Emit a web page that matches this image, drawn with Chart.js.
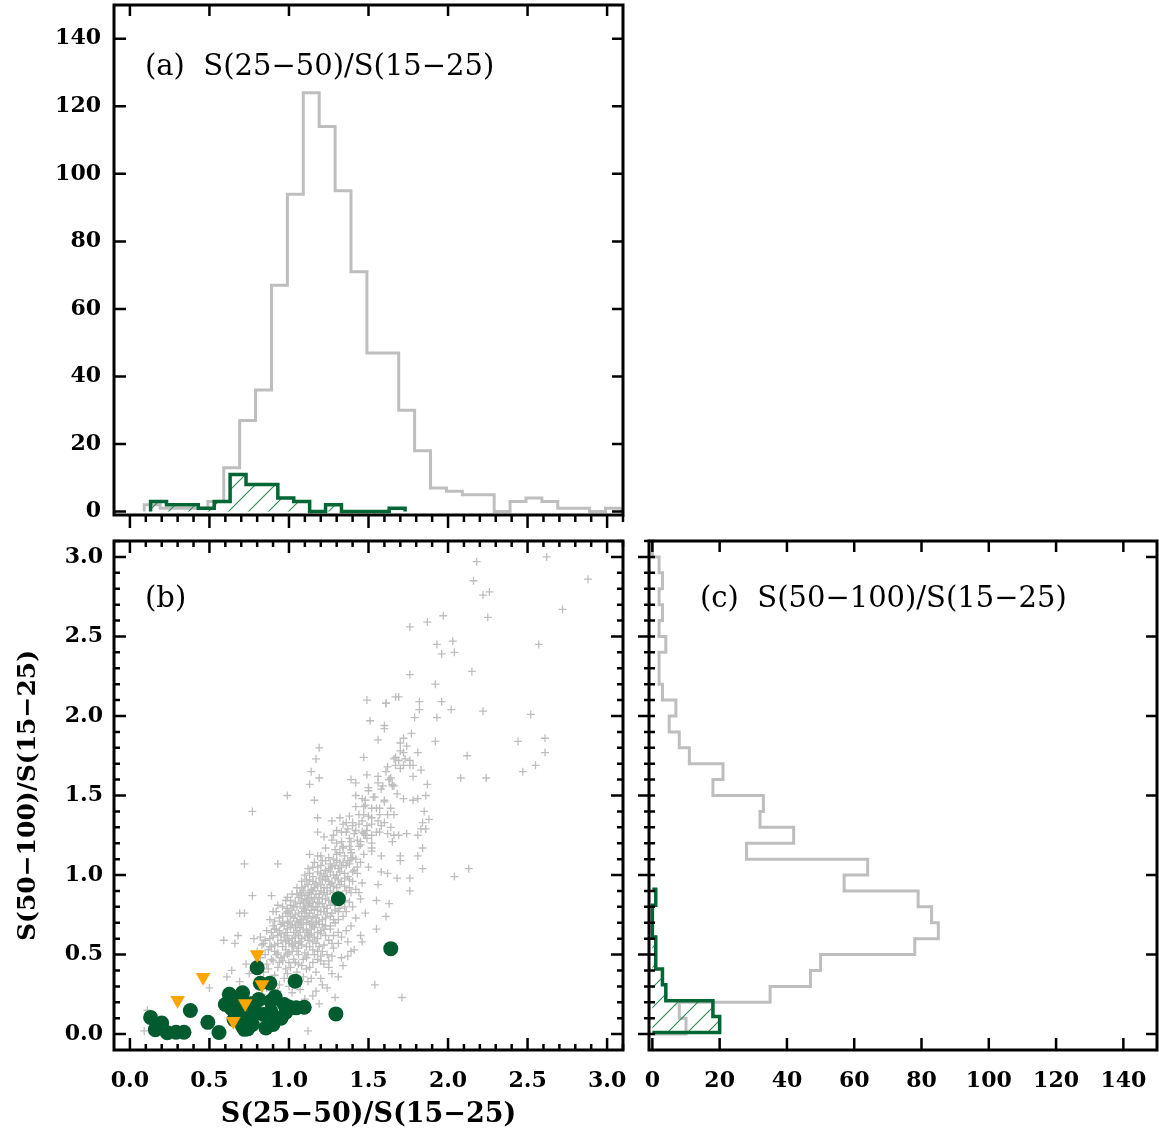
<!DOCTYPE html>
<html>
<head>
<meta charset="utf-8">
<title>Colour ratios</title>
<script src="https://cdn.jsdelivr.net/npm/chart.js@4.4.1/dist/chart.umd.min.js"></script>
<style>
  html, body { margin: 0; padding: 0; background: #fff; }
  #wrap { position: relative; width: 1159px; height: 1135px; }
  #wrap canvas { position: absolute; left: 0; top: 0; }
</style>
</head>
<body>
<div id="wrap">
  <canvas id="panelA" width="1159" height="1135"></canvas>
  <canvas id="panelB" width="1159" height="1135"></canvas>
  <canvas id="panelC" width="1159" height="1135"></canvas>
</div>
<script>
// (a) histogram of S(25-50)/S(15-25): whole sample (grey) and selected sources (green)
const edgesAllA = [0.09, 0.19, 0.29, 0.39, 0.49, 0.59, 0.69, 0.79, 0.89, 0.99, 1.09, 1.19, 1.29, 1.39, 1.49, 1.59,
                   1.69, 1.79, 1.89, 1.99, 2.09, 2.19, 2.29, 2.39, 2.49, 2.59, 2.69, 2.79, 2.89, 2.99, 3.09];
const countsAllA = [2, 1, 1, 1, 3, 13, 27, 36, 67, 94, 124, 114, 95, 71, 47, 47, 30, 18, 7, 6, 5, 5, 0, 3, 4, 3, 1, 1, 0, 1];
const edgesSelA = [0.13, 0.23, 0.33, 0.43, 0.53, 0.63, 0.73, 0.83, 0.93, 1.03, 1.13, 1.23, 1.33, 1.43, 1.53, 1.63, 1.73];
const countsSelA = [3, 2, 2, 1, 3, 11, 8, 8, 4, 3, 0, 2, 0, 0, 0, 1];

// (c) histogram of S(50-100)/S(15-25)
const edgesAllC = [0.0, 0.1, 0.2, 0.3, 0.4, 0.5, 0.6, 0.7, 0.8, 0.9, 1.0, 1.1, 1.2, 1.3, 1.4, 1.5, 1.6,
                   1.7, 1.8, 1.9, 2.0, 2.1, 2.2, 2.3, 2.4, 2.5, 2.6, 2.7, 2.8, 2.9, 3.0, 3.1];
const countsAllC = [10, 8, 35, 47, 50, 78, 85, 83, 79, 57, 64, 28, 42, 32, 33, 18, 21, 11, 8, 5, 7, 3, 2, 2, 4, 2, 3, 2, 3, 2, 0];
const edgesSelC = [0.01, 0.11, 0.21, 0.31, 0.41, 0.51, 0.61, 0.71, 0.81, 0.91];
const countsSelC = [20, 18, 4, 3, 1, 1, 0, 0, 1];

// (b) selected sources: detections (circles) and upper limits (triangles)
const detections = [
  [0.13, 0.105], [0.20, 0.07], [0.16, 0.028], [0.235, 0.008], [0.29, 0.012], [0.34, 0.012], [0.38, 0.148],
  [0.49, 0.074], [0.56, 0.01], [0.60, 0.186], [0.625, 0.25], [0.655, 0.091], [0.685, 0.123], [0.708, 0.26],
  [0.708, 0.049], [0.66, 0.18], [0.70, 0.10], [0.72, 0.03], [0.69, 0.15], [0.67, 0.21], [0.64, 0.16],
  [0.72, 0.09], [0.74, 0.033], [0.77, 0.112], [0.80, 0.417], [0.81, 0.217], [0.77, 0.06], [0.79, 0.14],
  [0.76, 0.19], [0.82, 0.32], [0.855, 0.039], [0.876, 0.102], [0.886, 0.144], [0.886, 0.207], [0.88, 0.32],
  [0.913, 0.234], [0.84, 0.123], [0.90, 0.06], [0.97, 0.186], [0.98, 0.137], [1.00, 0.17], [0.95, 0.10],
  [1.039, 0.333], [1.045, 0.165], [1.096, 0.169], [1.295, 0.127], [1.311, 0.851], [1.64, 0.537]
];
const upperLimits = [[0.30, 0.213], [0.46, 0.358], [0.80, 0.501], [0.83, 0.312], [0.725, 0.192], [0.65, 0.081]];

// (b) whole sample (dense core approximated)
const fieldPoints = [
  [2.18, 2.97], [2.62, 3.00], [2.88, 2.86], [2.16, 2.85], [2.22, 2.76], [2.26, 2.78], [2.72, 2.67], [1.97, 2.63],
  [2.25, 2.62], [1.87, 2.59], [1.76, 2.56], [1.93, 2.45], [2.03, 2.47], [1.96, 2.39], [2.04, 2.40], [2.57, 2.45],
  [1.76, 2.26], [2.15, 2.28], [1.92, 2.20], [1.67, 2.12], [1.69, 2.12], [1.61, 2.08], [1.82, 2.09], [1.96, 2.09],
  [1.82, 2.04], [2.02, 2.04], [2.22, 2.03], [2.52, 2.01], [1.79, 1.99], [1.93, 1.99], [1.60, 1.92], [1.77, 1.89],
  [1.72, 1.86], [1.92, 1.84], [2.44, 1.84], [2.61, 1.86], [1.70, 1.83], [1.81, 1.77], [1.72, 1.77], [2.12, 1.75],
  [2.61, 1.77], [1.66, 1.73], [1.69, 1.72], [1.76, 1.72], [1.67, 1.69], [1.72, 1.69], [1.78, 1.69], [1.61, 1.65],
  [1.83, 1.66], [2.55, 1.69], [2.47, 1.65], [1.78, 1.62], [2.08, 1.61], [2.24, 1.61], [1.87, 1.57], [1.63, 1.60],
  [1.65, 1.57],
  [1.49, 2.10], [1.61, 2.08], [1.51, 1.97], [1.60, 1.94], [1.56, 1.85], [1.19, 1.80], [1.17, 1.73], [1.47, 1.74],
  [1.14, 1.65], [1.19, 1.61], [1.13, 1.57], [1.49, 1.63], [1.39, 1.60], [1.42, 1.58], [1.63, 1.60], [1.56, 1.58],
  [1.59, 1.56], [1.65, 1.56], [0.99, 1.50], [1.16, 1.47], [1.42, 1.50], [1.50, 1.53], [1.54, 1.49], [1.48, 1.47],
  [1.68, 1.51], [1.72, 1.48], [1.86, 1.50], [1.81, 1.48], [1.78, 1.47], [1.60, 1.46], [1.64, 1.42], [1.57, 1.42],
  [1.52, 1.42], [1.47, 1.43], [1.66, 1.38], [1.62, 1.38], [1.47, 1.38], [1.85, 1.40], [0.77, 1.40], [1.18, 1.36],
  [1.27, 1.34], [1.32, 1.36], [1.36, 1.33], [1.52, 1.36], [1.56, 1.34], [1.60, 1.33], [1.84, 1.33], [1.88, 1.35],
  [1.40, 1.31], [1.44, 1.32], [1.49, 1.31], [1.58, 1.31], [1.64, 1.30], [1.83, 1.29], [1.86, 1.29], [1.37, 1.29],
  [1.18, 1.27], [1.22, 1.24], [1.28, 1.25], [1.33, 1.27], [1.41, 1.26], [1.46, 1.27], [1.49, 1.28], [1.48, 1.25],
  [1.52, 1.25], [1.57, 1.27], [1.62, 1.26], [1.66, 1.25], [1.69, 1.25], [1.74, 1.26], [1.81, 1.25], [1.65, 1.21],
  [1.45, 1.21], [1.39, 1.21], [1.30, 1.20], [1.34, 1.18], [1.38, 1.18], [1.45, 1.19], [1.52, 1.20], [1.84, 1.17],
  [1.81, 1.12], [1.52, 1.15], [1.58, 1.12], [1.70, 1.12], [1.70, 1.09], [1.39, 1.14], [1.32, 1.14], [1.13, 1.13],
  [1.18, 1.12], [0.72, 1.07], [0.93, 1.07], [1.84, 1.04], [2.04, 0.99], [1.68, 0.98], [1.76, 0.98], [1.62, 1.01],
  [1.58, 1.02], [2.13, 1.04],
  [0.59, 0.59], [0.66, 0.57], [0.68, 0.62], [0.78, 0.60], [0.72, 0.76], [0.77, 0.87], [0.64, 0.40], [0.61, 0.36],
  [0.50, 0.29], [0.09, 0.02], [1.12, 0.02], [1.19, 0.19], [1.54, 0.31], [1.71, 0.23], [0.11, 0.15], [0.73, 0.44],
  [0.83, 0.56], [0.69, 0.76], [0.89, 0.87], [0.90, 0.77], [0.93, 0.81], [0.99, 0.86], [1.00, 0.76], [1.08, 0.87],
  [0.96, 0.70], [0.91, 0.66], [0.89, 0.55], [0.92, 0.50], [0.96, 0.46], [0.93, 0.42], [0.98, 0.41], [1.06, 0.44],
  [1.11, 0.41], [1.14, 0.35], [1.20, 0.35], [1.25, 0.42], [1.20, 0.49], [1.27, 0.49], [1.33, 0.48], [1.39, 0.52],
  [1.46, 0.58], [1.37, 0.58], [1.55, 0.66], [1.61, 0.74], [1.48, 0.76], [1.55, 0.84], [1.63, 0.82], [1.76, 0.90],
  [1.56, 0.94], [1.44, 0.89],
  [0.78, 0.23], [0.95, 0.21], [1.02, 0.26], [1.10, 0.22], [1.17, 0.27], [0.72, 0.28], [0.86, 0.29], [0.93, 0.27],
  [1.00, 0.30], [1.07, 0.28], [1.15, 0.24], [1.24, 0.29], [0.83, 0.25], [1.29, 0.23],
  [0.69, 0.33], [0.81, 0.34], [0.88, 0.32], [0.97, 0.35], [1.04, 0.31], [1.12, 0.33], [1.21, 0.31], [1.31, 0.36],
  [0.75, 0.38], [0.84, 0.39], [0.91, 0.37], [0.99, 0.38], [1.05, 0.39], [1.09, 0.36], [1.17, 0.39], [1.27, 0.38],
  [1.02, 0.34], [0.94, 0.31],
  [0.78, 0.43], [0.86, 0.44], [0.94, 0.45], [1.01, 0.42], [1.03, 0.47], [1.08, 0.43], [1.15, 0.45], [1.22, 0.44],
  [1.34, 0.43], [0.82, 0.48], [0.89, 0.47], [0.97, 0.49], [1.06, 0.50], [1.11, 0.48], [1.18, 0.47], [1.25, 0.46],
  [1.37, 0.49], [1.00, 0.45], [1.13, 0.42], [0.87, 0.41],
  [0.80, 0.52], [0.87, 0.53], [0.93, 0.51], [0.96, 0.55], [1.02, 0.52], [1.06, 0.54], [1.10, 0.51], [1.15, 0.53],
  [1.21, 0.52], [1.28, 0.54], [1.41, 0.53], [0.84, 0.57], [0.91, 0.56], [0.95, 0.59], [1.00, 0.57], [1.04, 0.58],
  [1.08, 0.56], [1.12, 0.59], [1.17, 0.57], [1.22, 0.56], [1.31, 0.57], [1.00, 0.51], [1.13, 0.55], [0.98, 0.53],
  [1.25, 0.59],
  [0.82, 0.61], [0.88, 0.60], [0.93, 0.62], [0.97, 0.61], [1.02, 0.60], [1.06, 0.62], [1.10, 0.61], [1.14, 0.63],
  [1.18, 0.60], [1.23, 0.62], [1.33, 0.61], [1.45, 0.62], [0.86, 0.65], [0.92, 0.66], [0.98, 0.64], [1.01, 0.67],
  [1.05, 0.65], [1.09, 0.66], [1.12, 0.64], [1.16, 0.67], [1.20, 0.65], [1.26, 0.66], [1.36, 0.65], [0.95, 0.69],
  [1.00, 0.70], [1.04, 0.68], [1.08, 0.69], [1.11, 0.70], [1.15, 0.68], [1.19, 0.69], [1.23, 0.68], [1.29, 0.70],
  [1.39, 0.68], [1.13, 0.62], [1.07, 0.64], [0.90, 0.68],
  [0.88, 0.72], [0.94, 0.73], [0.99, 0.71], [1.03, 0.73], [1.07, 0.72], [1.10, 0.74], [1.14, 0.71], [1.17, 0.73],
  [1.21, 0.72], [1.26, 0.74], [1.31, 0.72], [1.42, 0.73], [0.92, 0.77], [0.98, 0.76], [1.02, 0.78], [1.06, 0.76],
  [1.10, 0.78], [1.13, 0.76], [1.16, 0.78], [1.20, 0.77], [1.24, 0.76], [1.29, 0.78], [1.36, 0.77], [0.96, 0.80],
  [1.01, 0.81], [1.05, 0.80], [1.09, 0.79], [1.12, 0.81], [1.15, 0.80], [1.19, 0.82], [1.22, 0.80], [1.26, 0.81],
  [1.32, 0.79], [1.40, 0.80], [1.08, 0.74], [1.18, 0.75],
  [0.98, 0.84], [1.04, 0.83], [1.08, 0.85], [1.11, 0.84], [1.14, 0.86], [1.18, 0.83], [1.21, 0.85], [1.25, 0.84],
  [1.29, 0.86], [1.35, 0.84], [1.45, 0.85], [1.02, 0.88], [1.07, 0.89], [1.10, 0.87], [1.13, 0.89], [1.17, 0.88],
  [1.20, 0.90], [1.24, 0.88], [1.28, 0.89], [1.33, 0.87], [1.39, 0.89], [1.16, 0.85],
  [1.05, 0.92], [1.10, 0.93], [1.14, 0.91], [1.18, 0.93], [1.22, 0.92], [1.26, 0.94], [1.30, 0.92], [1.35, 0.93],
  [1.42, 0.91], [1.08, 0.96], [1.13, 0.97], [1.17, 0.95], [1.21, 0.97], [1.25, 0.96], [1.29, 0.98], [1.33, 0.96],
  [1.38, 0.97], [1.46, 0.95], [1.10, 1.00], [1.15, 0.99], [1.20, 1.01], [1.24, 0.99], [1.28, 1.00], [1.32, 1.02],
  [1.37, 0.99], [1.43, 1.01],
  [1.12, 1.04], [1.18, 1.05], [1.23, 1.03], [1.27, 1.05], [1.31, 1.04], [1.36, 1.06], [1.41, 1.03], [1.50, 1.05],
  [1.16, 1.08], [1.21, 1.09], [1.26, 1.07], [1.30, 1.09], [1.34, 1.08], [1.39, 1.10], [1.45, 1.08], [1.20, 1.12],
  [1.25, 1.11], [1.30, 1.13], [1.35, 1.12], [1.40, 1.11], [1.47, 1.13],
  [1.23, 1.17], [1.29, 1.16], [1.34, 1.17], [1.39, 1.16], [1.44, 1.18], [1.52, 1.17], [1.27, 1.22], [1.33, 1.21],
  [1.38, 1.23], [1.43, 1.22], [1.49, 1.23], [1.30, 1.28], [1.36, 1.27], [1.42, 1.28], [1.47, 1.26], [1.55, 1.27],
  [1.34, 1.32], [1.40, 1.33], [1.46, 1.34], [1.52, 1.32], [1.38, 1.37], [1.44, 1.38], [1.50, 1.37], [1.57, 1.38],
  [1.42, 1.43], [1.48, 1.44], [1.55, 1.42], [1.46, 1.48], [1.53, 1.49], [1.60, 1.47], [1.50, 1.55], [1.58, 1.54],
  [1.66, 1.56], [1.56, 1.62], [1.64, 1.61], [1.62, 1.68], [1.70, 1.67], [1.76, 1.69], [1.67, 1.74], [1.73, 1.73],
  [1.70, 1.78], [1.74, 1.81],
  [0.90, 0.46], [0.95, 0.48], [1.04, 0.45], [1.09, 0.47], [1.16, 0.50], [1.20, 0.46], [0.85, 0.50], [0.91, 0.52],
  [0.99, 0.50], [1.05, 0.52], [1.12, 0.50], [1.18, 0.52], [1.24, 0.50], [0.88, 0.55], [0.93, 0.57], [0.98, 0.58],
  [1.03, 0.55], [1.07, 0.58], [1.11, 0.55], [1.15, 0.58], [1.19, 0.55], [1.27, 0.57], [1.02, 0.56], [0.85, 0.59],
  [0.90, 0.61], [0.95, 0.63], [0.99, 0.62], [1.04, 0.61], [1.08, 0.60], [1.12, 0.62], [1.16, 0.61], [1.20, 0.63],
  [1.28, 0.62], [1.00, 0.59], [1.06, 0.57], [0.89, 0.64], [0.94, 0.65], [0.99, 0.66], [1.03, 0.64], [1.07, 0.67],
  [1.11, 0.65], [1.14, 0.66], [1.18, 0.64], [1.22, 0.66], [1.31, 0.64], [1.02, 0.69], [1.06, 0.70], [1.13, 0.69],
  [1.17, 0.70], [1.21, 0.69], [1.26, 0.68], [0.97, 0.68], [0.91, 0.71], [0.96, 0.74], [1.01, 0.74], [1.05, 0.71],
  [1.09, 0.72], [1.12, 0.73], [1.15, 0.74], [1.19, 0.71], [1.23, 0.73], [1.28, 0.72], [1.34, 0.74], [0.99, 0.77],
  [1.04, 0.75], [1.08, 0.77], [1.11, 0.76], [1.14, 0.78], [1.18, 0.78], [1.22, 0.77], [1.27, 0.76], [1.31, 0.77],
  [0.99, 0.79], [1.03, 0.80], [1.07, 0.82], [1.10, 0.80], [1.13, 0.82], [1.17, 0.80], [1.21, 0.82], [1.24, 0.79],
  [1.29, 0.81], [1.35, 0.80], [1.01, 0.84], [1.06, 0.86], [1.09, 0.83], [1.12, 0.85], [1.15, 0.83], [1.19, 0.86],
  [1.23, 0.85], [1.27, 0.83], [1.32, 0.85], [1.38, 0.83], [1.05, 0.88], [1.09, 0.90], [1.12, 0.88], [1.15, 0.90],
  [1.19, 0.88], [1.22, 0.89], [1.26, 0.90], [1.31, 0.88], [1.36, 0.90], [1.08, 0.92], [1.12, 0.94], [1.16, 0.92],
  [1.20, 0.94], [1.24, 0.92], [1.28, 0.93], [1.32, 0.94], [1.38, 0.92], [1.11, 0.97], [1.15, 0.96], [1.19, 0.98],
  [1.23, 0.97], [1.27, 0.95], [1.31, 0.97], [1.35, 0.98], [1.40, 0.96], [1.13, 1.01], [1.18, 1.02], [1.22, 1.00],
  [1.26, 1.02], [1.30, 1.00], [1.35, 1.01], [1.40, 1.02], [1.15, 1.05], [1.20, 1.06], [1.25, 1.04], [1.29, 1.06],
  [1.33, 1.05], [1.38, 1.07], [1.43, 1.05], [1.23, 1.09], [1.28, 1.10], [1.32, 1.08], [1.37, 1.09], [1.42, 1.10]
];

// tick labels
const ratioTicks = [0.0, 0.5, 1.0, 1.5, 2.0, 2.5, 3.0];
const countTicks = [0, 20, 40, 60, 80, 100, 120, 140];

const GREY = '#bebebe';
const GREEN = '#006634';
const HATCH_GREEN = '#2a8a56';
const DOT_GREEN = '#005c2e';
const ORANGE = '#ffa500';
const SERIF = '"DejaVu Serif", "Liberation Serif", serif';
const TICK_FONT = { family: SERIF, size: 22, weight: 'bold' };

Chart.defaults.font.family = SERIF;
Chart.defaults.color = '#000';

// histogram outline, bins along x (points for stepped 'before')
function stepsUp(edges, counts) {
  const pts = [{ x: edges[0], y: 0 }];
  counts.forEach((c, i) => pts.push({ x: edges[i], y: c }));
  pts.push({ x: edges[edges.length - 1], y: 0 });
  return pts;
}

// same, bins along y (stepped 'after')
function stepsSide(edges, counts) {
  const pts = [{ x: 0, y: edges[0] }];
  counts.forEach((c, i) => pts.push({ x: c, y: edges[i] }));
  pts.push({ x: 0, y: edges[edges.length - 1] });
  return pts;
}

function hatch(canvasId) {
  const tile = document.createElement('canvas');
  tile.width = 20;
  tile.height = 20;
  const g = tile.getContext('2d');
  g.strokeStyle = HATCH_GREEN;
  g.lineWidth = 1.1;
  g.beginPath();
  g.moveTo(0, 20); g.lineTo(20, 0);
  g.moveTo(-5, 5); g.lineTo(5, -5);
  g.moveTo(15, 25); g.lineTo(25, 15);
  g.stroke();
  return document.getElementById(canvasId).getContext('2d').createPattern(tile, 'repeat');
}

// frame, inward/outward tick marks and the panel caption
const frameTicks = {
  id: 'frameTicks',
  afterDraw(chart, args, opts) {
    const { ctx, chartArea: a, scales } = chart;
    ctx.save();
    ctx.strokeStyle = '#000';
    ctx.lineWidth = 2.5;
    ctx.beginPath();
    for (const m of opts.marks) {
      const s = scales[m.axis];
      const n = Math.round((m.to - m.from) / m.step);
      for (let i = 0; i <= n; i++) {
        const p = s.getPixelForValue(m.from + i * m.step);
        const inn = m.inLen || 0;
        const out = m.outLen || 0;
        if (m.side === 'top') { ctx.moveTo(p, a.top - out); ctx.lineTo(p, a.top + inn); }
        if (m.side === 'bottom') { ctx.moveTo(p, a.bottom + out); ctx.lineTo(p, a.bottom - inn); }
        if (m.side === 'left') { ctx.moveTo(a.left - out, p); ctx.lineTo(a.left + inn, p); }
        if (m.side === 'right') { ctx.moveTo(a.right + out, p); ctx.lineTo(a.right - inn, p); }
      }
    }
    ctx.stroke();
    ctx.lineWidth = 3;
    ctx.strokeRect(a.left, a.top, a.right - a.left, a.bottom - a.top);
    if (opts.label) {
      ctx.fillStyle = '#000';
      ctx.font = '29px ' + SERIF;
      ctx.textBaseline = 'alphabetic';
      ctx.textAlign = 'left';
      ctx.fillText(opts.label.text, a.left + opts.label.dx, a.top + opts.label.dy);
    }
    ctx.restore();
  }
};

function fixedAxis(size, horizontal) {
  return s => {
    if (horizontal) s.height = size; else s.width = size;
    s.paddingTop = 0; s.paddingBottom = 0; s.paddingLeft = 0; s.paddingRight = 0;
  };
}

function useTicks(values) {
  return s => { s.ticks = values.map(v => ({ value: v })); };
}

const common = {
  responsive: false,
  animation: false,
  devicePixelRatio: 1,
  events: []
};

// Panel (a)
new Chart(document.getElementById('panelA'), {
  type: 'line',
  data: {
    datasets: [
      { data: stepsUp(edgesSelA, countsSelA), stepped: 'before', borderColor: GREEN, borderWidth: 3.5,
        pointRadius: 0, fill: 'origin', backgroundColor: hatch('panelA'), order: 1 },
      { data: stepsUp(edgesAllA, countsAllA), stepped: 'before', borderColor: GREY, borderWidth: 3,
        pointRadius: 0, fill: false, order: 2 }
    ]
  },
  options: {
    ...common,
    layout: { autoPadding: false, padding: { left: 0, right: 536, top: 5, bottom: 620 } },
    scales: {
      x: { type: 'linear', min: -0.1, max: 3.1, display: false },
      y: {
        type: 'linear', min: -1, max: 150, bounds: 'data',
        afterFit: fixedAxis(114, false), afterBuildTicks: useTicks(countTicks),
        grid: { display: false, drawTicks: false }, border: { display: false },
        ticks: { padding: 13, font: TICK_FONT, autoSkip: false, callback: v => String(v) }
      }
    },
    plugins: {
      legend: { display: false }, tooltip: { enabled: false },
      frameTicks: {
        label: { text: '(a)  S(25\u221250)/S(15\u221225)', dx: 31, dy: 70 },
        marks: [
          { axis: 'x', side: 'top', from: 0, to: 3, step: 0.5, inLen: 11 },
          { axis: 'x', side: 'bottom', from: 0, to: 3, step: 0.5, outLen: 13 },
          { axis: 'x', side: 'bottom', from: 0, to: 3.1, step: 0.1, outLen: 7 },
          { axis: 'y', side: 'left', from: 0, to: 140, step: 20, inLen: 12 },
          { axis: 'y', side: 'right', from: 0, to: 140, step: 20, inLen: 11 }
        ]
      }
    }
  },
  plugins: [frameTicks]
});

// Panel (b)
new Chart(document.getElementById('panelB'), {
  type: 'scatter',
  data: {
    datasets: [
      { data: upperLimits.map(p => ({ x: p[0], y: p[1] })), pointStyle: 'triangle', pointRotation: 180,
        pointRadius: 8.5, pointBackgroundColor: ORANGE, pointBorderWidth: 0, order: 1 },
      { data: detections.map(p => ({ x: p[0], y: p[1] })), pointStyle: 'circle',
        pointRadius: 7.5, pointBackgroundColor: DOT_GREEN, pointBorderWidth: 0, order: 2 },
      { data: fieldPoints.map(p => ({ x: p[0], y: p[1] })), pointStyle: 'cross',
        pointRadius: 4, pointBorderColor: GREY, pointBorderWidth: 1.3, order: 3 }
    ]
  },
  options: {
    ...common,
    layout: { autoPadding: false, padding: { left: 0, right: 536, top: 541, bottom: 0 } },
    scales: {
      x: {
        type: 'linear', min: -0.1, max: 3.1, bounds: 'data',
        afterFit: fixedAxis(85, true), afterBuildTicks: useTicks(ratioTicks),
        grid: { display: false, drawTicks: false }, border: { display: false },
        ticks: { padding: 18, font: TICK_FONT, autoSkip: false, maxRotation: 0, callback: v => v.toFixed(1) },
        title: { display: true, text: 'S(25\u221250)/S(15\u221225)', font: { family: SERIF, size: 27, weight: 'bold' },
                 padding: { bottom: 4 } }
      },
      y: {
        type: 'linear', min: -0.1, max: 3.1, bounds: 'data',
        afterFit: fixedAxis(114, false), afterBuildTicks: useTicks(ratioTicks),
        grid: { display: false, drawTicks: false }, border: { display: false },
        ticks: { padding: 11, font: TICK_FONT, autoSkip: false, callback: v => v.toFixed(1) },
        title: { display: true, text: 'S(50\u2212100)/S(15\u221225)', font: { family: SERIF, size: 25, weight: 'bold' },
                 padding: { top: 13 } }
      }
    },
    plugins: {
      legend: { display: false }, tooltip: { enabled: false },
      frameTicks: {
        label: { text: '(b)', dx: 31, dy: 66 },
        marks: [
          { axis: 'x', side: 'top', from: 0, to: 3, step: 0.5, inLen: 12 },
          { axis: 'x', side: 'top', from: 0, to: 3.1, step: 0.1, inLen: 6 },
          { axis: 'x', side: 'bottom', from: 0, to: 3, step: 0.5, inLen: 12 },
          { axis: 'x', side: 'bottom', from: 0, to: 3.1, step: 0.1, inLen: 6 },
          { axis: 'y', side: 'left', from: 0, to: 3, step: 0.5, inLen: 12 },
          { axis: 'y', side: 'left', from: 0, to: 3.1, step: 0.1, inLen: 6 },
          { axis: 'y', side: 'right', from: 0, to: 3, step: 0.5, inLen: 12 },
          { axis: 'y', side: 'right', from: 0, to: 3.1, step: 0.1, inLen: 6 }
        ]
      }
    }
  },
  plugins: [frameTicks]
});

// Panel (c)
new Chart(document.getElementById('panelC'), {
  type: 'line',
  data: {
    datasets: [
      { data: stepsSide(edgesSelC, countsSelC), stepped: 'after', borderColor: GREEN, borderWidth: 3.5,
        pointRadius: 0, fill: 'origin', backgroundColor: hatch('panelC'), order: 1 },
      { data: stepsSide(edgesAllC, countsAllC), stepped: 'after', borderColor: GREY, borderWidth: 3,
        pointRadius: 0, fill: false, order: 2 }
    ]
  },
  options: {
    ...common,
    indexAxis: 'y',
    layout: { autoPadding: false, padding: { left: 649, right: 2, top: 541, bottom: 0 } },
    scales: {
      x: {
        type: 'linear', min: -1, max: 150, bounds: 'data',
        afterFit: fixedAxis(85, true), afterBuildTicks: useTicks(countTicks),
        grid: { display: false, drawTicks: false }, border: { display: false },
        ticks: { padding: 18, font: TICK_FONT, autoSkip: false, maxRotation: 0, callback: v => String(v) }
      },
      y: { type: 'linear', min: -0.1, max: 3.1, display: false }
    },
    plugins: {
      legend: { display: false }, tooltip: { enabled: false },
      frameTicks: {
        label: { text: '(c)  S(50\u2212100)/S(15\u221225)', dx: 51, dy: 66 },
        marks: [
          { axis: 'x', side: 'top', from: 0, to: 140, step: 20, inLen: 11 },
          { axis: 'x', side: 'bottom', from: 0, to: 140, step: 20, inLen: 12 },
          { axis: 'y', side: 'left', from: 0, to: 3, step: 0.5, inLen: 6, outLen: 11 },
          { axis: 'y', side: 'left', from: 0, to: 3.1, step: 0.1, inLen: 6, outLen: 5 },
          { axis: 'y', side: 'right', from: 0, to: 3, step: 0.5, inLen: 11 }
        ]
      }
    }
  },
  plugins: [frameTicks]
});
</script>
</body>
</html>
